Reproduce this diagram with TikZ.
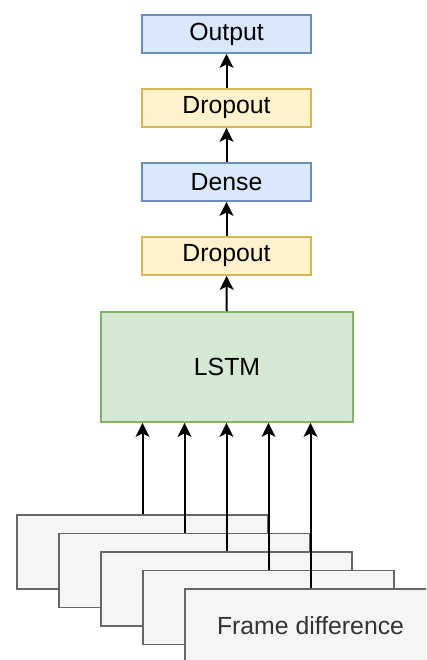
\documentclass[tikz,border=0pt]{standalone}
\usepackage{fontspec}
\setmainfont{Liberation Sans}
\usetikzlibrary{arrows.meta}
\definecolor{bluef}{HTML}{DAE8FC}
\definecolor{blued}{HTML}{6C8EBF}
\definecolor{yelf}{HTML}{FFF2CC}
\definecolor{yeld}{HTML}{D6B656}
\definecolor{grnf}{HTML}{D5E8D4}
\definecolor{grnd}{HTML}{82B366}
\definecolor{gryf}{HTML}{F5F5F5}
\definecolor{gryd}{HTML}{666666}
\definecolor{gryt}{HTML}{333333}
\begin{document}
\begin{tikzpicture}[x=1pt,y=-1pt,
  box/.style={draw, line width=1.8pt, minimum width=169pt, minimum height=38pt, inner sep=0pt,
    font=\fontsize{24.8}{28}\selectfont},
  bluebox/.style={box, fill=bluef, draw=blued},
  yelbox/.style={box, fill=yelf, draw=yeld},
  lstmbox/.style={box, fill=grnf, draw=grnd, minimum width=252pt, minimum height=110pt},
  framebox/.style={box, fill=gryf, draw=gryd, text=gryt, minimum width=251pt, minimum height=74pt},
  arr/.style={-{Stealth[length=14pt,width=14pt,inset=3.5pt]}, line width=2pt, black}
]
\useasboundingbox (0,0) rectangle (426,660);
\clip (0,0) rectangle (426,660);
\fill[white] (0,0) rectangle (426,660);
\node[bluebox] (out) at (226.5,34) {Output};
\node[yelbox] (drop1) at (226.5,108) {Dropout};
\node[bluebox] (dense) at (226.5,182) {Dense};
\node[yelbox] (drop2) at (226.5,256) {Dropout};
\node[lstmbox] (lstm) at (227,367) {LSTM};
\node[framebox] (f1) at (142.5,552) {};
\node[framebox] (f2) at (184.5,570.5) {};
\node[framebox] (f3) at (226.5,589) {};
\node[framebox] (f4) at (268.5,607.5) {};
\node[framebox] (f5) at (310.5,626) {Frame difference};
\draw[arr] (drop1) -- (out);
\draw[arr] (dense) -- (drop1);
\draw[arr] (drop2) -- (dense);
\draw[arr] (lstm) -- (drop2);
\foreach \f in {f1,f2,f3,f4,f5}{
  \draw[arr] (\f.north) -- (\f.north |- lstm.south);
}
\end{tikzpicture}
\end{document}
